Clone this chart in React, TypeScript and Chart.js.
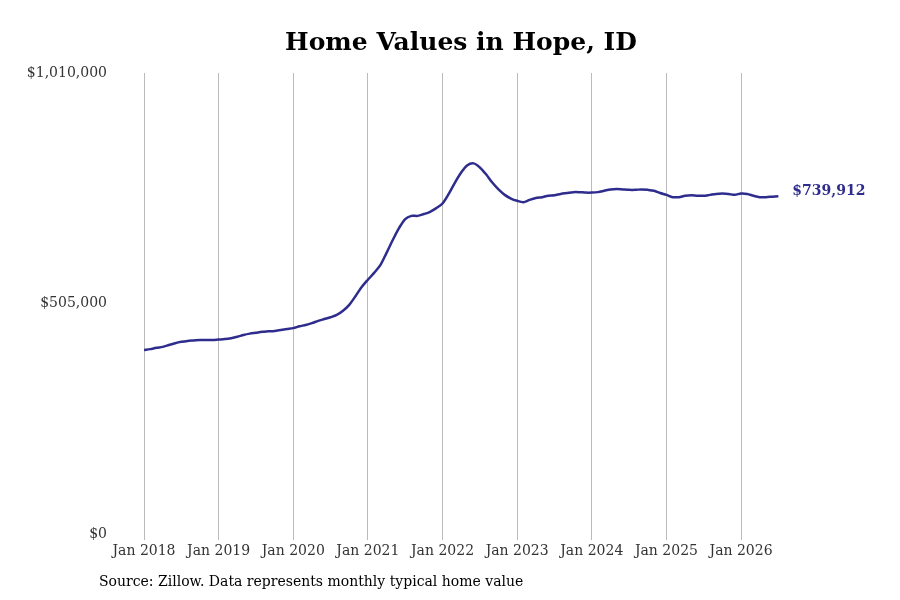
import React, { useEffect, useRef } from "react";
import { Chart, registerables } from "chart.js";
Chart.register(...registerables);

const startYear = 2018;
const values: number[] = [
  403000, 405000, 408000, 410000, 414000, 418000, 421000, 423000, 424000, 425000, 425000, 425000,
  426000, 427000, 429000, 432000, 436000, 439000, 441000, 443000, 444000, 445000, 447000, 449000,
  451000, 455000, 458000, 462000, 467000, 471000, 475000, 480000, 489000, 502000, 521000, 541000,
  557000, 572000, 589000, 616000, 644000, 670000, 690000, 697000, 697000, 701000, 706000, 714000,
  724000, 745000, 770000, 792000, 808000, 812000, 803000, 788000, 770000, 755000, 743000, 735000,
  730000, 727000, 732000, 736000, 738000, 741000, 742000, 745000, 747000, 749000, 749000, 748000,
  748000, 749000, 752000, 755000, 756000, 755000, 754000, 754000, 755000, 754000, 752000, 747000,
  743000, 738000, 738000, 741000, 742000, 741000, 741000, 743000, 745000, 746000, 745000, 743000,
  746000, 745000, 741000, 738000, 738000, 739000, 739912,
];
const yTicks = [0, 505000, 1010000];
const title = "Home Values in Hope, ID";
const source = "Source: Zillow. Data represents monthly typical home value";
const lineColor = "#2e2c8c";
const font = "'DejaVu Serif', serif";

export default function App() {
  const ref = useRef<HTMLCanvasElement>(null);
  useEffect(() => {
    const data = values.map((v, i) => ({ x: i, y: v }));
    const textPlugin = {
      id: "texts",
      afterDraw(chart: any) {
        const ctx = chart.ctx;
        ctx.save();
        ctx.fillStyle = "#000";
        ctx.font = `bold 25px ${font}`;
        ctx.textAlign = "center";
        ctx.textBaseline = "middle";
        ctx.fillText(title, 461, 43);
        ctx.font = `14px ${font}`;
        ctx.textAlign = "left";
        ctx.fillText(source, 99, 582);
        const last = chart.getDatasetMeta(0).data[values.length - 1];
        ctx.fillStyle = lineColor;
        ctx.font = `bold 14px ${font}`;
        ctx.fillText("$" + values[values.length - 1].toLocaleString("en-US"), last.x + 14, last.y - 5);
        ctx.restore();
      },
    };
    const chart = new Chart(ref.current!, {
      type: "line",
      data: {
        datasets: [{
          data, borderColor: lineColor, borderWidth: 2.5, pointRadius: 0, tension: 0.3, fill: false,
        }],
      },
      options: {
        animation: false,
        responsive: false,
        layout: { padding: { top: 73, bottom: 36, right: 47, left: 0 } },
        plugins: { legend: { display: false }, tooltip: { enabled: false } },
        scales: {
          x: {
            type: "linear", min: 0, max: 114,
            afterBuildTicks: (s: any) => { s.ticks = [0, 12, 24, 36, 48, 60, 72, 84, 96].map((v) => ({ value: v })); },
            afterFit: (s: any) => { s.height = 30; },
            ticks: {
              color: "#333", font: { family: font, size: 14 }, maxRotation: 0,
              callback: (v: any) => "Jan " + (startYear + Math.round(v / 12)),
            },
            grid: { color: "#bbb", drawTicks: true, tickLength: 6 },
            border: { display: false },
          },
          y: {
            min: 0, max: 1010000,
            afterBuildTicks: (s: any) => { s.ticks = yTicks.map((v) => ({ value: v })); },
            afterFit: (s: any) => { s.width = 144; },
            ticks: {
              color: "#333", font: { family: font, size: 14 }, padding: 29,
              callback: (v: any) => "$" + Number(v).toLocaleString("en-US"),
            },
            grid: { display: false },
            border: { display: false },
          },
        },
      },
      plugins: [textPlugin],
    } as any);
    return () => chart.destroy();
  }, []);
  return (
    <div style={{ position: "absolute", left: 0, top: 0, width: 900, height: 600, background: "#fff" }}>
      <canvas ref={ref} width={900} height={600} />
    </div>
  );
}
